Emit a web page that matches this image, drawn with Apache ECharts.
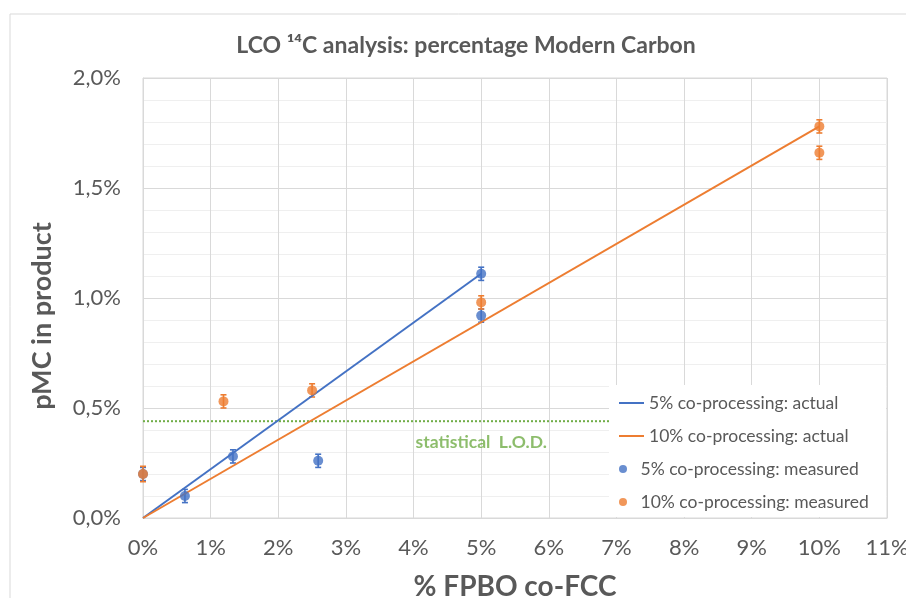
<!DOCTYPE html>
<html><head><meta charset="utf-8">
<script src="https://cdn.jsdelivr.net/npm/echarts@6/dist/echarts.min.js"></script>
<style>html,body{margin:0;padding:0;background:#fff}#c{width:906px;height:598px}</style>
</head><body><div id="c"></div>
<script>
// ---- data (values in % units) ----
const xTickLabels = ['0%','1%','2%','3%','4%','5%','6%','7%','8%','9%','10%','11%'];
const yTickLabels = {'0':'0,0%','0.5':'0,5%','1':'1,0%','1.5':'1,5%','2':'2,0%'};
const blueActual = [[0, 0], [5, 1.11]];
const orangeActual = [[0, 0], [10, 1.78]];
const blueMeasured = [[0, 0.20], [0.62, 0.10], [1.33, 0.28], [2.59, 0.26], [5, 0.92], [5, 1.11]];
const blueErr = [0.03, 0.03, 0.03, 0.03, 0.03, 0.03];
const orangeMeasured = [[0, 0.20], [1.19, 0.53], [2.5, 0.58], [5, 0.98], [10, 1.78], [10, 1.66]];
const orangeErr = [0.035, 0.03, 0.03, 0.03, 0.03, 0.03];
const lodValue = 0.44;
const lodLabelAt = [5.0, 0.345];

const BLUE = '#4472C4', ORANGE = '#ED7D31', GREEN = '#70AD47', TXT = '#595959';
const FONT = 'Lato, "Noto Sans", sans-serif';

function errorSeries(points, errs, color, z) {
  return {
    type: 'custom', silent: true, z: z,
    data: points.map((p, i) => [p[0], p[1], errs[i]]),
    renderItem: function (params, api) {
      const x = api.value(0), y = api.value(1), e = api.value(2);
      const t = api.coord([x, y + e]), b = api.coord([x, y - e]);
      const w = 3;
      const st = { stroke: color, lineWidth: 1.6 };
      return { type: 'group', children: [
        { type: 'line', shape: { x1: t[0], y1: t[1], x2: b[0], y2: b[1] }, style: st },
        { type: 'line', shape: { x1: t[0] - w, y1: t[1], x2: t[0] + w, y2: t[1] }, style: st },
        { type: 'line', shape: { x1: b[0] - w, y1: b[1], x2: b[0] + w, y2: b[1] }, style: st }
      ]};
    }
  };
}

const chart = echarts.init(document.getElementById('c'), null, { renderer: 'canvas' });
chart.setOption({
  animation: false,
  backgroundColor: '#fff',
  textStyle: { fontFamily: FONT },
  title: {
    text: 'LCO \u00B9\u2074C analysis: percentage Modern Carbon',
    left: 461, top: 29, textAlign: 'center',
    textStyle: { fontFamily: FONT, fontSize: 23, fontWeight: 'bold', color: TXT }
  },
  graphic: [
    { type: 'rect', z: -1, shape: { x: 10, y: 14, width: 1000, height: 700 },
      style: { fill: 'none', stroke: '#d9d9d9', lineWidth: 1 } },
    { type: 'rect', z: 3, shape: { x: 609, y: 385, width: 277, height: 132 },
      style: { fill: '#fff' } }
  ],
  grid: { left: 143, right: 19, top: 78, bottom: 80, show: true, borderColor: '#d9d9d9', borderWidth: 1,
          containLabel: false, outerBoundsMode: 'none' },
  xAxis: {
    type: 'value', min: 0, max: 11, interval: 1,
    name: '% FPBO co-FCC', nameLocation: 'middle', nameGap: 55,
    nameTextStyle: { fontFamily: FONT, fontSize: 28, fontWeight: 'bold', color: TXT },
    axisLine: { lineStyle: { color: '#d9d9d9' } },
    axisTick: { show: false },
    axisLabel: { formatter: v => xTickLabels[Math.round(v)], fontSize: 22, color: TXT, margin: 19, fontFamily: FONT },
    splitLine: { lineStyle: { color: '#d9d9d9' } }
  },
  yAxis: {
    type: 'value', min: 0, max: 2, interval: 0.5,
    name: 'pMC in product', nameLocation: 'middle', nameGap: 87,
    nameTextStyle: { fontFamily: FONT, fontSize: 27, fontWeight: 'bold', color: TXT, padding: [0, 36, 0, 0] },
    axisLine: { show: true, lineStyle: { color: '#d9d9d9' } },
    axisTick: { show: false },
    axisLabel: { formatter: v => yTickLabels[String(v)], fontSize: 22, color: TXT, margin: 22, fontFamily: FONT },
    splitLine: { lineStyle: { color: '#d9d9d9' } },
    minorTick: { show: false, splitNumber: 5 },
    minorSplitLine: { show: true, lineStyle: { color: '#efefef' } }
  },
  legend: [
    { orient: 'vertical', left: 614, top: 388, itemWidth: 25, itemHeight: 2, itemGap: 13,
      icon: 'rect', textStyle: { fontSize: 17.5, color: TXT, lineHeight: 20, fontFamily: FONT },
      data: ['5% co-processing: actual', '10% co-processing: actual'] },
    { orient: 'vertical', left: 614, top: 454, itemWidth: 25, itemHeight: 8, itemGap: 13,
      icon: 'circle', textStyle: { fontSize: 17.5, color: TXT, lineHeight: 20, fontFamily: FONT },
      data: ['5% co-processing: measured', '10% co-processing: measured'] }
  ],
  series: [
    { name: 'LOD', type: 'line', data: [[0, lodValue], [11, lodValue]], symbol: 'none', silent: true, z: 1,
      lineStyle: { color: GREEN, width: 2, type: [2, 2] } },
    { name: 'LODlabel', type: 'scatter', data: [lodLabelAt], symbolSize: 0, silent: true,
      label: { show: true, position: 'inside', formatter: 'statistical  L.O.D.', color: GREEN,
               fontWeight: 'bold', fontSize: 17.5, fontFamily: FONT } },
    { name: '5% co-processing: actual', type: 'line', data: blueActual, symbol: 'none', color: BLUE,
      lineStyle: { color: BLUE, width: 2 } },
    { name: '10% co-processing: actual', type: 'line', data: orangeActual, symbol: 'none', color: ORANGE,
      lineStyle: { color: ORANGE, width: 2 } },
    errorSeries(blueMeasured, blueErr, BLUE, 3),
    { name: '5% co-processing: measured', type: 'scatter', data: blueMeasured, symbolSize: 10, color: BLUE, z: 4 },
    errorSeries(orangeMeasured, orangeErr, ORANGE, 3),
    { name: '10% co-processing: measured', type: 'scatter', data: orangeMeasured, symbolSize: 10, color: ORANGE, z: 4 }
  ]
});
</script></body></html>
